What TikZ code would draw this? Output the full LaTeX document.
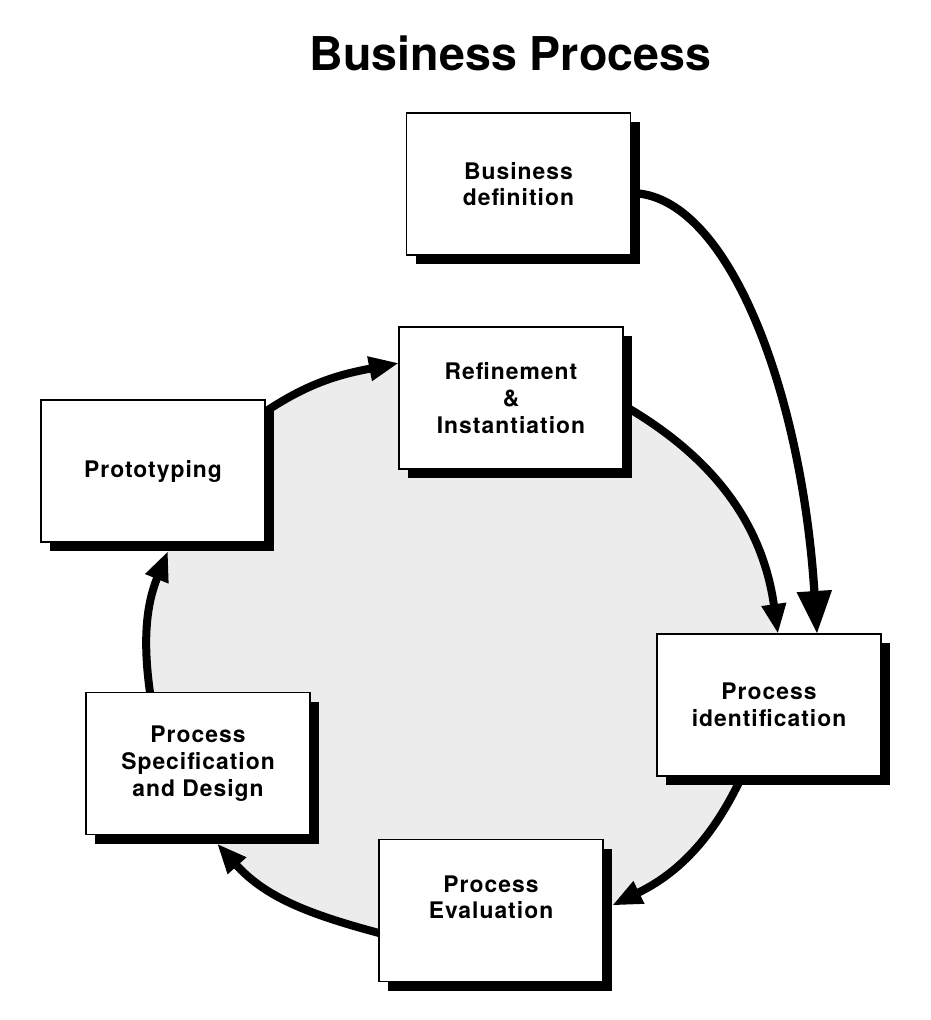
\documentclass[tikz,border=0pt]{standalone}
\usepackage{fontspec}
\setmainfont{TeX Gyre Heros}
\newfontfamily\boxfont[LetterSpace=4.5]{TeX Gyre Heros}
\usetikzlibrary{arrows.meta, calc, shadows, backgrounds}
\definecolor{fillgray}{HTML}{ECECEC}

\begin{document}
\begin{tikzpicture}[x=0.2mm, y=0.2mm,
  stage/.style={draw, line width=1pt, fill=white, minimum width=44.8mm, minimum height=28.4mm,
    inner sep=0pt, outer sep=0pt, align=center, font=\boxfont\bfseries\fontsize{13}{15.2}\selectfont,
    drop shadow={shadow xshift=1.8mm, shadow yshift=-1.8mm, fill=black, opacity=1}},
  cycleflow/.style={line width=1.6mm, -{Triangle[length=6mm, width=4.6mm]}},
  entry/.style={line width=1.65mm, -{Triangle[length=8.6mm, width=6.6mm]}}]
\useasboundingbox (0,0) rectangle (930,-1020);

\node[anchor=base, font=\bfseries\fontsize{26.5}{30}\selectfont] (title) at (510.5,-70) {Business Process};

\node[stage] (defn) at (518.5,-184) {Business\\definition};
\node[stage] (refine) at (511,-398) {Refinement\\\&\\Instantiation};
\node[stage] (proto) at (153,-471) {Prototyping};
\node[stage] (ident) at (769,-705) {Process\\identification};
\node[stage] (eval) at (491,-910.5) {Process\\Evaluation\\\mbox{}};
\node[stage] (spec) at (198,-763.5) {Process\\Specification\\and Design};

% ends of the arcs on the boxes
\coordinate (a1) at ($(proto.north east)+(0,-12)$);
\coordinate (a2) at ($(refine.north west)+(0,-36)$);
\coordinate (b1) at ($(refine.east)+(0,-7)$);
\coordinate (b2) at ($(ident.north)+(9,0)$);
\coordinate (c1) at ($(ident.south)+(-27,0)$);
\coordinate (c2) at ($(eval.east)+(9,5)$);
\coordinate (d1) at ($(eval.west)+(0,-22.5)$);
\coordinate (d2) at ($(spec.south)+(19,-9)$);
\coordinate (e1) at ($(spec.north)+(-48,0)$);
\coordinate (e2) at ($(proto.south)+(15,-9)$);
\coordinate (f1) at ($(defn.east)+(0,-9)$);
\coordinate (f2) at ($(ident.north)+(48,0)$);

\begin{pgfonlayer}{background}
\fill[fillgray] (a1) to[out=34,in=191] (a2) -- (b1) to[out=-30,in=98] (b2) -- (c1) to[out=245,in=26] (c2)
  -- (d1) to[out=165,in=312] (d2) -- (e1) to[out=98,in=248] (e2) -- cycle;
\draw[cycleflow] (a1) to[out=34,in=191] (a2);
\draw[cycleflow] (b1) to[out=-30,in=98] (b2);
\draw[cycleflow] (c1) to[out=245,in=26] (c2);
\draw[cycleflow] (d1) to[out=165,in=312] (d2);
\draw[cycleflow] (e1) to[out=98,in=248] (e2);
\draw[entry] (f1) .. controls +(98,0) and +(-15,240) .. (f2);
\end{pgfonlayer}
\end{tikzpicture}
\end{document}
